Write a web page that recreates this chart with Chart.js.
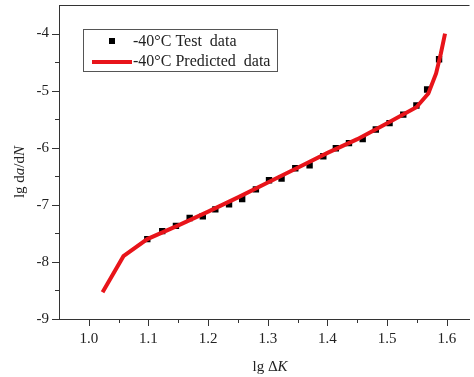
<!DOCTYPE html>
<html>
<head>
<meta charset="utf-8">
<script src="https://cdn.jsdelivr.net/npm/chart.js@4"></script>
<style>
  html, body { margin: 0; padding: 0; background: #fff; }
  #wrap { width: 474px; height: 377px; }
</style>
</head>
<body>
<div id="wrap"><canvas id="myChart"></canvas></div>
<script>
// test points
const testX = [1.098, 1.123, 1.146, 1.169, 1.191, 1.212, 1.235, 1.257, 1.280, 1.302, 1.323, 1.346,
  1.370, 1.393, 1.414, 1.436, 1.459, 1.481, 1.504, 1.527, 1.549, 1.567, 1.587];
const testY = [-7.60, -7.46, -7.37, -7.23, -7.20, -7.08, -6.99, -6.90, -6.73, -6.57, -6.54, -6.36,
  -6.31, -6.15, -6.01, -5.92, -5.85, -5.68, -5.57, -5.42, -5.26, -4.98, -4.45];

// predicted curve
const predX = [1.023, 1.058, 1.098, 1.15, 1.20, 1.25, 1.30, 1.35, 1.40, 1.45, 1.50, 1.549, 1.569, 1.582, 1.590, 1.597];
const predY = [-8.53, -7.90, -7.60, -7.36, -7.12, -6.87, -6.61, -6.35, -6.09, -5.85, -5.57, -5.29, -5.05, -4.70, -4.35, -4.00];

const xMajor = [1.0, 1.1, 1.2, 1.3, 1.4, 1.5, 1.6];
const xMinor = [1.05, 1.15, 1.25, 1.35, 1.45, 1.55];
const yMajor = [-9, -8, -7, -6, -5, -4];
const yMinor = [-8.5, -7.5, -6.5, -5.5, -4.5];

const serif = '"Liberation Serif", "DejaVu Serif", serif';
const axisColor = '#333';

const testPts = testX.map((x, i) => ({ x: x, y: testY[i] }));
const predPts = predX.map((x, i) => ({ x: x, y: predY[i] }));

// ticks, frame top, legend box and titles
const decor = {
  id: 'decor',
  afterDraw(chart) {
    const ctx = chart.ctx;
    const a = chart.chartArea;
    const xs = chart.scales.x, ys = chart.scales.y;
    ctx.save();
    ctx.strokeStyle = axisColor;
    ctx.lineWidth = 1;
    ctx.beginPath();
    ctx.moveTo(a.left, a.top + 0.5);
    ctx.lineTo(a.right, a.top + 0.5);
    xMajor.forEach(v => { const p = Math.round(xs.getPixelForValue(v)) + 0.5; ctx.moveTo(p, a.bottom); ctx.lineTo(p, a.bottom + 7); });
    xMinor.forEach(v => { const p = Math.round(xs.getPixelForValue(v)) + 0.5; ctx.moveTo(p, a.bottom); ctx.lineTo(p, a.bottom + 4); });
    yMajor.forEach(v => { const p = Math.round(ys.getPixelForValue(v)) + 0.5; ctx.moveTo(a.left, p); ctx.lineTo(a.left - 7, p); });
    yMinor.forEach(v => { const p = Math.round(ys.getPixelForValue(v)) + 0.5; ctx.moveTo(a.left, p); ctx.lineTo(a.left - 4, p); });
    ctx.stroke();

    // legend
    ctx.strokeStyle = '#555';
    ctx.strokeRect(83.5, 29.5, 194, 42);
    ctx.fillStyle = '#000';
    ctx.fillRect(109, 38, 6, 6);
    ctx.strokeStyle = '#e8141a';
    ctx.lineWidth = 4;
    ctx.beginPath();
    ctx.moveTo(92, 62);
    ctx.lineTo(132, 62);
    ctx.stroke();
    ctx.fillStyle = '#222';
    ctx.font = '16px ' + serif;
    ctx.textBaseline = 'middle';
    ctx.textAlign = 'left';
    ctx.fillText(chart.data.datasets[1].label, 133, 42);
    ctx.fillText(chart.data.datasets[0].label, 133, 62);

    // x title: lg ΔK
    drawMixed(ctx, [['lg \u0394', false], ['K', true]], 270, 367);

    // y title: lg da/dN
    ctx.translate(20, 172);
    ctx.rotate(-Math.PI / 2);
    drawMixed(ctx, [['lg d', false], ['a', true], ['/d', false], ['N', true]], 0, 0);
    ctx.restore();
  }
};

function drawMixed(ctx, parts, cx, cy) {
  let total = 0;
  parts.forEach(p => { ctx.font = (p[1] ? 'italic ' : '') + '15px ' + serif; total += ctx.measureText(p[0]).width; });
  let x = cx - total / 2;
  ctx.textAlign = 'left';
  ctx.textBaseline = 'middle';
  parts.forEach(p => {
    ctx.font = (p[1] ? 'italic ' : '') + '15px ' + serif;
    ctx.fillText(p[0], x, cy);
    x += ctx.measureText(p[0]).width;
  });
}

const config = {
  type: 'scatter',
  data: {
    datasets: [
      {
        label: '-40\u00b0C Predicted  data',
        data: predPts,
        showLine: true,
        borderColor: '#e8141a',
        backgroundColor: '#e8141a',
        borderWidth: 4,
        pointRadius: 0,
        tension: 0,
        order: 1,
      },
      {
        label: '-40\u00b0C Test  data',
        data: testPts,
        pointStyle: 'rect',
        pointRadius: 4.5,
        backgroundColor: '#000',
        borderColor: '#000',
        borderWidth: 0,
        order: 2,
      }
    ]
  },
  options: {
    responsive: true,
    maintainAspectRatio: false,
    animation: false,
    layout: { padding: { top: 5, right: 0, left: 0, bottom: 0 } },
    plugins: {
      legend: { display: false },
      tooltip: { enabled: false },
    },
    scales: {
      x: {
        type: 'linear',
        min: 0.95,
        max: 1.638,
        afterBuildTicks: s => { s.ticks = xMajor.map(v => ({ value: v })); },
        afterFit: s => { s.height = 58; s.paddingLeft = 0; s.paddingRight = 0; },
        grid: { display: false, drawTicks: false },
        border: { display: true, color: axisColor, width: 1 },
        ticks: {
          color: '#222',
          font: { family: serif, size: 15 },
          padding: 11,
          maxRotation: 0,
          callback: v => v.toFixed(1),
        },
      },
      y: {
        type: 'linear',
        min: -9,
        max: -3.5,
        afterBuildTicks: s => { s.ticks = yMajor.map(v => ({ value: v })); },
        afterFit: s => { s.width = 59; s.paddingTop = 0; s.paddingBottom = 0; },
        grid: { display: false, drawTicks: false },
        border: { display: true, color: axisColor, width: 1 },
        ticks: {
          color: '#222',
          font: { family: serif, size: 15 },
          padding: 10,
          callback: v => String(v),
        },
      }
    }
  },
  plugins: [decor]
};

const myChart = new Chart(document.getElementById('myChart'), config);
</script>
</body>
</html>
